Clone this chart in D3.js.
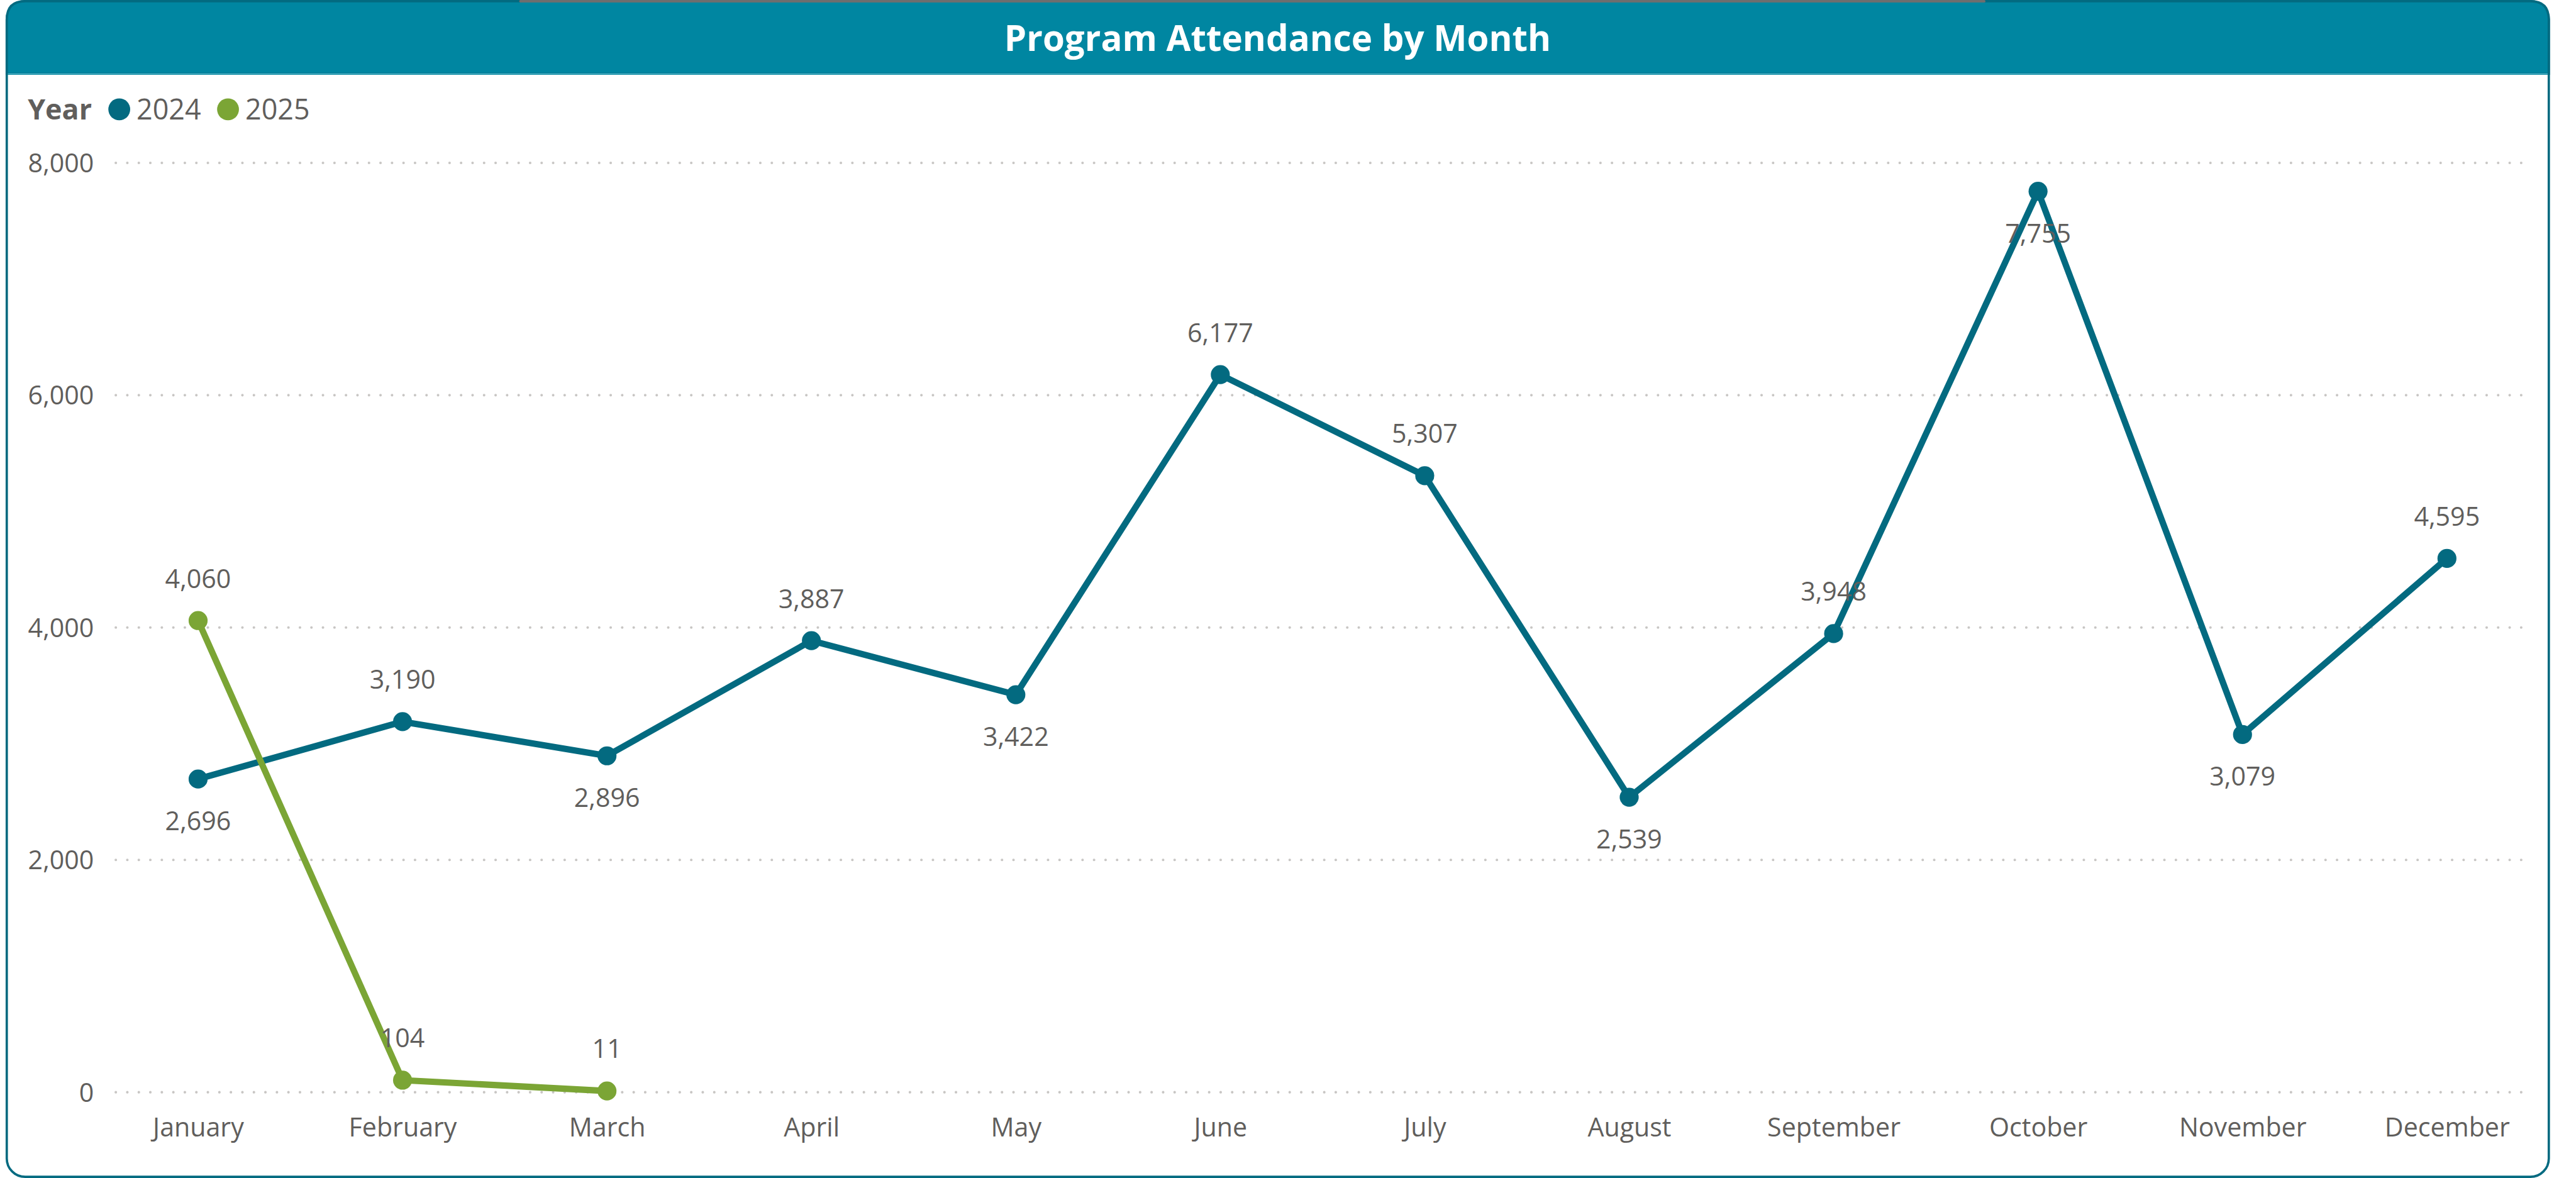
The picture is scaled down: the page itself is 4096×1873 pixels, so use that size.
<!DOCTYPE html>
<html>
<head>
<meta charset="utf-8">
<script src="https://cdn.jsdelivr.net/npm/d3@7"></script>
<style>
  html, body { margin: 0; padding: 0; background: #ffffff; overflow: hidden; }
  svg { display: block; }
  text { font-family: 'Open Sans', 'Noto Sans', sans-serif; }
</style>
</head>
<body>
<svg id="chart" width="4096" height="1873" viewBox="0 0 4476 2047"></svg>
<script>
// ---- data ----
const months = ["January","February","March","April","May","June","July","August","September","October","November","December"];
const years = ["2024","2025"];
const values2024 = [2696, 3190, 2896, 3887, 3422, 6177, 5307, 2539, 3948, 7755, 3079, 4595];
const values2025 = [4060, 104, 11];
const yTicks = [0, 2000, 4000, 6000, 8000];
const title = "Program Attendance by Month";
const legendTitle = "Year";

// ---- styles ----
const colors = { "2024": "#036A80", "2025": "#7BA535" };
const textGrey = "#605E5C";
const headerFill = "#0086A1";
const borderColor = "#036A80";

const svg = d3.select("#chart");

// card
svg.append("rect")
  .attr("x", 11.5).attr("y", 2).attr("width", 4417.5).attr("height", 2043)
  .attr("rx", 32).attr("ry", 32)
  .attr("fill", "#ffffff").attr("stroke", borderColor).attr("stroke-width", 4);

// header bar with rounded top corners
const hx0 = 11.5, hx1 = 4429, hy0 = 2, hy1 = 128, r = 32;
svg.append("path")
  .attr("d", `M${hx0},${hy1} L${hx0},${hy0 + r} Q${hx0},${hy0} ${hx0 + r},${hy0} L${hx1 - r},${hy0} Q${hx1},${hy0} ${hx1},${hy0 + r} L${hx1},${hy1} Z`)
  .attr("fill", headerFill).attr("stroke", borderColor).attr("stroke-width", 4);
svg.append("rect").attr("x", hx0 + 2).attr("y", hy1 - 2).attr("width", hx1 - hx0 - 4).attr("height", 4).attr("fill", headerFill);
svg.append("line").attr("x1", hx0 + 2).attr("x2", hx1 - 2).attr("y1", hy1 + 0.5).attr("y2", hy1 + 0.5)
  .attr("stroke", "#7FC6D3").attr("stroke-width", 1);

// grey tab strip at very top
svg.append("rect").attr("x", 902).attr("y", 0).attr("width", 2548).attr("height", 4.5)
  .attr("rx", 2).attr("fill", "#6E6E6E");

// title
const titleText = svg.append("text")
  .attr("x", 2220).attr("y", 88)
  .attr("text-anchor", "middle")
  .attr("fill", "#ffffff").attr("font-weight", 700)
  .attr("font-size", 66)
  .text(title);
const tw = titleText.node().getComputedTextLength();
if (tw > 950) titleText.attr("font-size", 66 * 950 / tw);

// legend
const legend = svg.append("g");
legend.append("text").attr("x", 48).attr("y", 208)
  .attr("font-size", 49).attr("font-weight", 700).attr("fill", textGrey).text(legendTitle);
const legendX = { "2024": 207, "2025": 396 };
years.forEach(yr => {
  legend.append("circle").attr("cx", legendX[yr]).attr("cy", 190).attr("r", 19).attr("fill", colors[yr]);
  legend.append("text").attr("x", legendX[yr] + 30).attr("y", 208)
    .attr("font-size", 49).attr("fill", textGrey).text(yr);
});

// scales
const x = d3.scalePoint().domain(months).range([344, 4252]);
const y = d3.scaleLinear().domain([0, 8000]).range([1898, 283]);
const gridX0 = 201, gridX1 = 4383;

// gridlines (dotted)
svg.append("g").selectAll("line").data(yTicks).join("line")
  .attr("x1", gridX0).attr("x2", gridX1)
  .attr("y1", d => y(d)).attr("y2", d => y(d))
  .attr("stroke", "#C8C6C4").attr("stroke-width", 4.5)
  .attr("stroke-linecap", "round").attr("stroke-dasharray", "0 20");

// y axis labels
const fmt = d3.format(",");
const yAxis = svg.append("g").attr("transform", `translate(${gridX0},0)`)
  .call(d3.axisLeft(y).tickValues(yTicks).tickFormat(fmt).tickSize(0).tickPadding(38));
yAxis.select(".domain").remove();
yAxis.selectAll("text").attr("font-size", 45).attr("fill", textGrey)
  .attr("font-family", "'Open Sans', sans-serif").attr("dy", null).attr("y", 16);

// x axis labels
const xAxis = svg.append("g").attr("transform", `translate(0,${y(0)})`)
  .call(d3.axisBottom(x).tickSize(0));
xAxis.select(".domain").remove();
xAxis.selectAll("text").attr("font-size", 45).attr("fill", textGrey)
  .attr("font-family", "'Open Sans', sans-serif").attr("dy", null).attr("y", 77);

// series
const series = [
  { year: "2024", values: values2024 },
  { year: "2025", values: values2025 }
];
const line = d3.line().x((d, i) => x(months[i])).y(d => y(d));

const plotTop = y(8000) - 20, plotBottom = y(0);
const labelOffset = 73, capHalf = 16;

series.forEach(s => {
  const g = svg.append("g");
  g.append("path").datum(s.values)
    .attr("d", line)
    .attr("fill", "none").attr("stroke", colors[s.year])
    .attr("stroke-width", 11).attr("stroke-linejoin", "round");
  g.selectAll("circle").data(s.values).join("circle")
    .attr("cx", (d, i) => x(months[i])).attr("cy", d => y(d))
    .attr("r", 16.5).attr("fill", colors[s.year]);
});

// data labels (placed above unless local minimum; flipped if they would leave the plot)
series.forEach(s => {
  const g = svg.append("g");
  s.values.forEach((v, i) => {
    const prev = s.values[i - 1], next = s.values[i + 1];
    const isMin = (prev === undefined || prev > v) && (next === undefined || next > v);
    const py = y(v);
    let below = isMin;
    if (!below && py - labelOffset - capHalf - 1 < plotTop) below = true;
    if (below && py + labelOffset + capHalf + 1 > plotBottom) below = false;
    const cy = below ? py + labelOffset : py - labelOffset;
    g.append("text")
      .attr("x", x(months[i])).attr("y", cy + capHalf)
      .attr("text-anchor", "middle")
      .attr("font-size", 45).attr("fill", textGrey)
      .text(fmt(v));
  });
});
</script>
</body>
</html>
